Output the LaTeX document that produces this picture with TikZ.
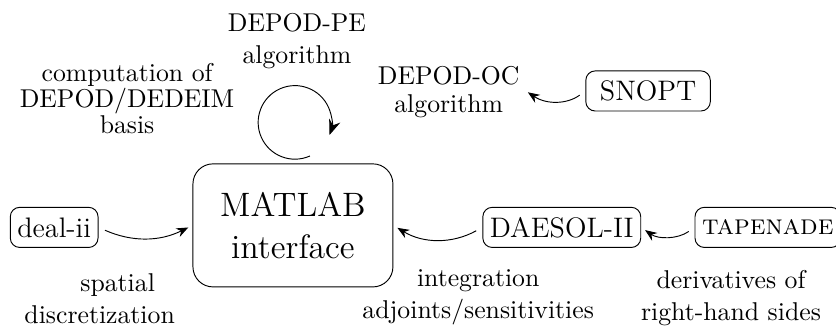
\documentclass[tikz,border=0pt]{standalone}
\usetikzlibrary{arrows.meta}
\begin{document}
\begin{tikzpicture}[font=\fontsize{10.95}{13.6}\selectfont, >={Stealth[length=5pt, width=4pt]},
          toolbox/.style={draw, rounded corners, font=\large, inner xsep=3pt, minimum height=0.6cm},
          mainbox/.style={draw, rounded corners=0.3cm, font=\Large, align=center, minimum width=2.99cm, minimum height=1.84cm},
          note/.style={align=center},
          tightnote/.style={note, font=\fontsize{10.95}{11}\selectfont},
          link/.style={->, shorten <=3pt, shorten >=2pt}]
        \useasboundingbox (-4.38,-1.50) rectangle (8.12,3.37);
        \node[mainbox] (matlab) at (0,0) {MATLAB\\interface};
        \node[toolbox] (deal) at (-3.57,-0.03) {deal-ii};
        \node[toolbox] (daesol) at (4.02,-0.03) {DAESOL-II};
        \node[toolbox] (tapenade) at (7.10,-0.03) {\textsc{tapenade}};
        \node[toolbox, inner xsep=6pt] (snopt) at (5.31,2.01) {SNOPT};
        \node[note] (pealg) at (0.06,2.75) {DEPOD-PE\\algorithm};
        \node[tightnote] (basis) at (-2.48,1.90) {computation of\\DEPOD/DEDEIM\\basis};
        \node[note, font=\fontsize{10.95}{12}\selectfont] (ocalg) at (2.33,1.99) {DEPOD-OC\\algorithm};
        \node[note] (spatial) at (-2.89,-1.09) {\hspace*{1.4em}spatial\\discretization};
        \node[note] (integ) at (2.77,-1.08) {integration\\adjoints/sensitivities};
        \node[note] (derivs) at (6.55,-1.08) {derivatives of\\right-hand sides};
        \coordinate (pecyc) at (0.03,1.54);
        % arrows
        \draw[link] (deal.east) to[bend right=25] (matlab.west);
        \draw[link] (daesol.west) to[bend left=30] (matlab.east);
        \draw[link] (tapenade.west) to[bend left=35] (daesol.east);
        \draw[link, shorten >=0pt] (snopt.west) to[bend left=35] (ocalg.east);
        \draw[-{Stealth[length=6.5pt, width=5pt]}] (pecyc) ++(294:0.55) arc[start angle=294, end angle=-20, radius=0.55];
      \end{tikzpicture}
\end{document}
